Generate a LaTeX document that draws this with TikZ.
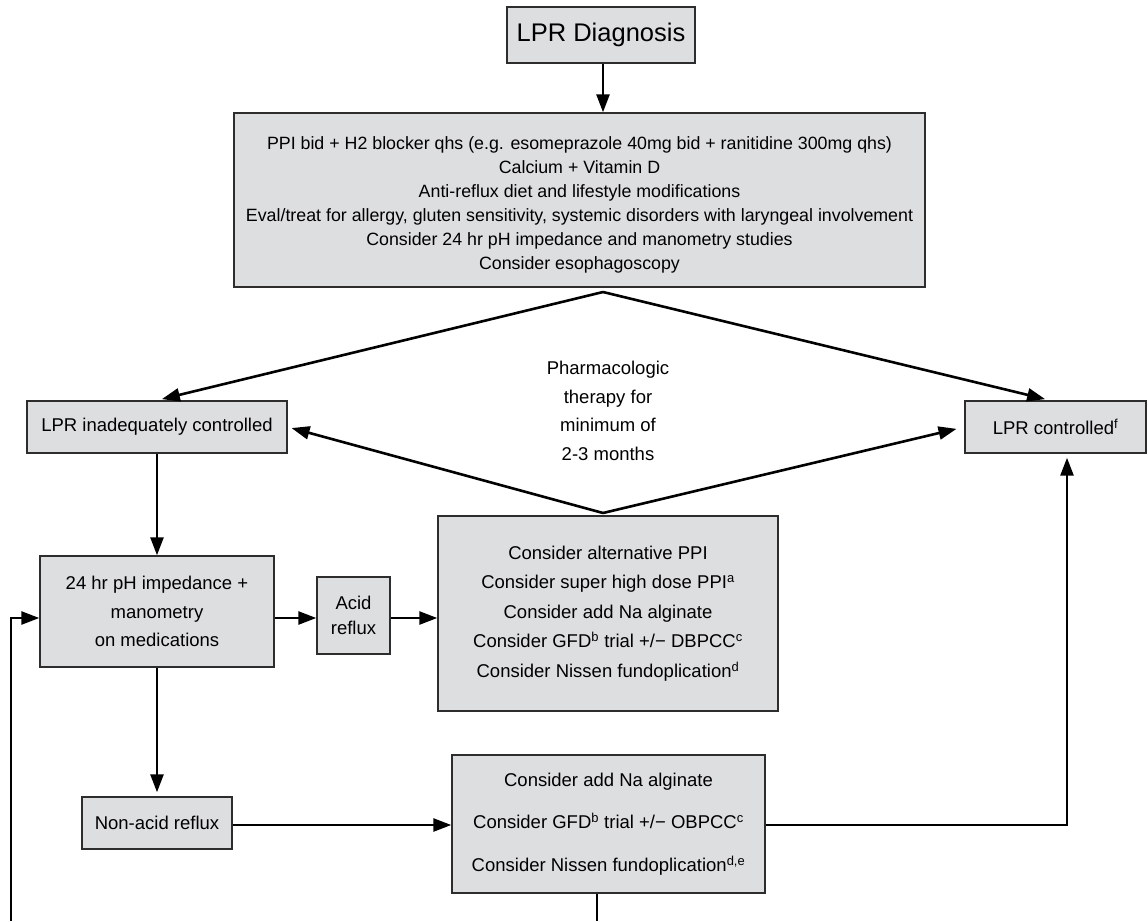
\documentclass[tikz,border=0pt]{standalone}
\usepackage{fontspec}
\setmainfont{Liberation Sans}
\usetikzlibrary{arrows.meta}
\definecolor{boxgray}{RGB}{221,222,224}
\definecolor{edgegray}{RGB}{45,45,45}
\newcommand{\sizedtext}[2]{\fontsize{#1}{#2}\selectfont}
\begin{document}
\begin{tikzpicture}[x=1pt,y=-1pt,>={Triangle[length=18pt,width=13pt]},->,line width=2.6pt,
    box/.style={draw=edgegray,fill=boxgray,line width=1.4pt,inner sep=0pt,align=center,font=\sizedtext{18.5}{28.5}},
    note/.style={align=center,font=\sizedtext{18.5}{28.5}}]
    \useasboundingbox (0,0) rectangle (1148,921);
    \node[box,minimum width=188pt,minimum height=56pt,font=\sizedtext{25.5}{30}] (diag) at (601,35) {LPR Diagnosis};
    \node[box,minimum width=691pt,minimum height=174pt] (treat) at (579.5,200) {};
    \node[note,font=\sizedtext{17.8}{24}] (treattext) at (579.5,205)
        {PPI bid + H2 blocker qhs (e.g. esomeprazole 40mg bid + ranitidine 300mg qhs)\\
         Calcium + Vitamin D\\
         Anti-reflux diet and lifestyle modifications\\
         Eval/treat for allergy, gluten sensitivity, systemic disorders with laryngeal involvement\\
         Consider 24 hr pH impedance and manometry studies\\
         Consider esophagoscopy};
    \node[box,minimum width=260pt,minimum height=52pt] (noctl) at (157,427) {LPR inadequately controlled};
    \node[box,minimum width=181pt,minimum height=52pt] (ctl) at (1055.5,427) {LPR controlled\textsuperscript{f}};
    \node[note] (pharm) at (608,411) {Pharmacologic\\therapy for\\minimum of\\2-3 months};
    \node[box,minimum width=340pt,minimum height=195pt,font=\sizedtext{18.5}{29.5}] (alt) at (608,613.5)
        {Consider alternative PPI\\
         Consider super high dose PPI\textsuperscript{a}\\
         Consider add Na alginate\\
         Consider GFD\textsuperscript{b} trial +/− DBPCC\textsuperscript{c}\\
         Consider Nissen fundoplication\textsuperscript{d}};
    \node[box,minimum width=234pt,minimum height=111pt] (ph) at (157,611.5) {24 hr pH impedance +\\manometry\\on medications};
    \node[box,minimum width=73pt,minimum height=77pt,font=\sizedtext{18.5}{25}] (acid) at (353.5,615.5) {Acid\\reflux};
    \node[box,minimum width=150pt,minimum height=52pt] (nonacid) at (157,823) {Non-acid reflux};
    \node[box,minimum width=313pt,minimum height=138pt,font=\sizedtext{18.5}{42.5}] (lower) at (608.5,824)
        {Consider add Na alginate\\
         Consider GFD\textsuperscript{b} trial +/− OBPCC\textsuperscript{c}\\
         Consider Nissen fundoplication\textsuperscript{d,e}};
    \coordinate (split) at (603,292);
    \coordinate (merge) at (603,513);
    \coordinate (lowend) at (597,921);
    \coordinate (loopend) at (11,921);
    \draw (diag.south -| 603,0) -- (treat.north -| 603,0);
    \draw[shorten >=5pt] (split) -- (noctl.north);
    \draw[shorten >=5pt] (split) -- (ctl.north -| 1050,0);
    \draw[shorten >=4pt] (merge) -- (noctl.east);
    \draw[shorten >=8pt] (merge) -- (ctl.west);
    \draw (noctl) -- (ph);
    \draw (ph.east |- 0,618) -- (acid.west |- 0,618);
    \draw (acid.east |- 0,618) -- (alt.west |- 0,618);
    \draw[shorten >=4pt] (ph) -- (nonacid);
    \draw (nonacid.east |- 0,825) -- (lower.west |- 0,825);
    \draw[shorten >=4pt] (lower.east |- 0,825) -| (ctl.south -| 1067,0);
    \draw[-] (lower.south -| lowend) -- (lowend);
    \draw (loopend) |- (ph.west |- 0,618);
\end{tikzpicture}
\end{document}
